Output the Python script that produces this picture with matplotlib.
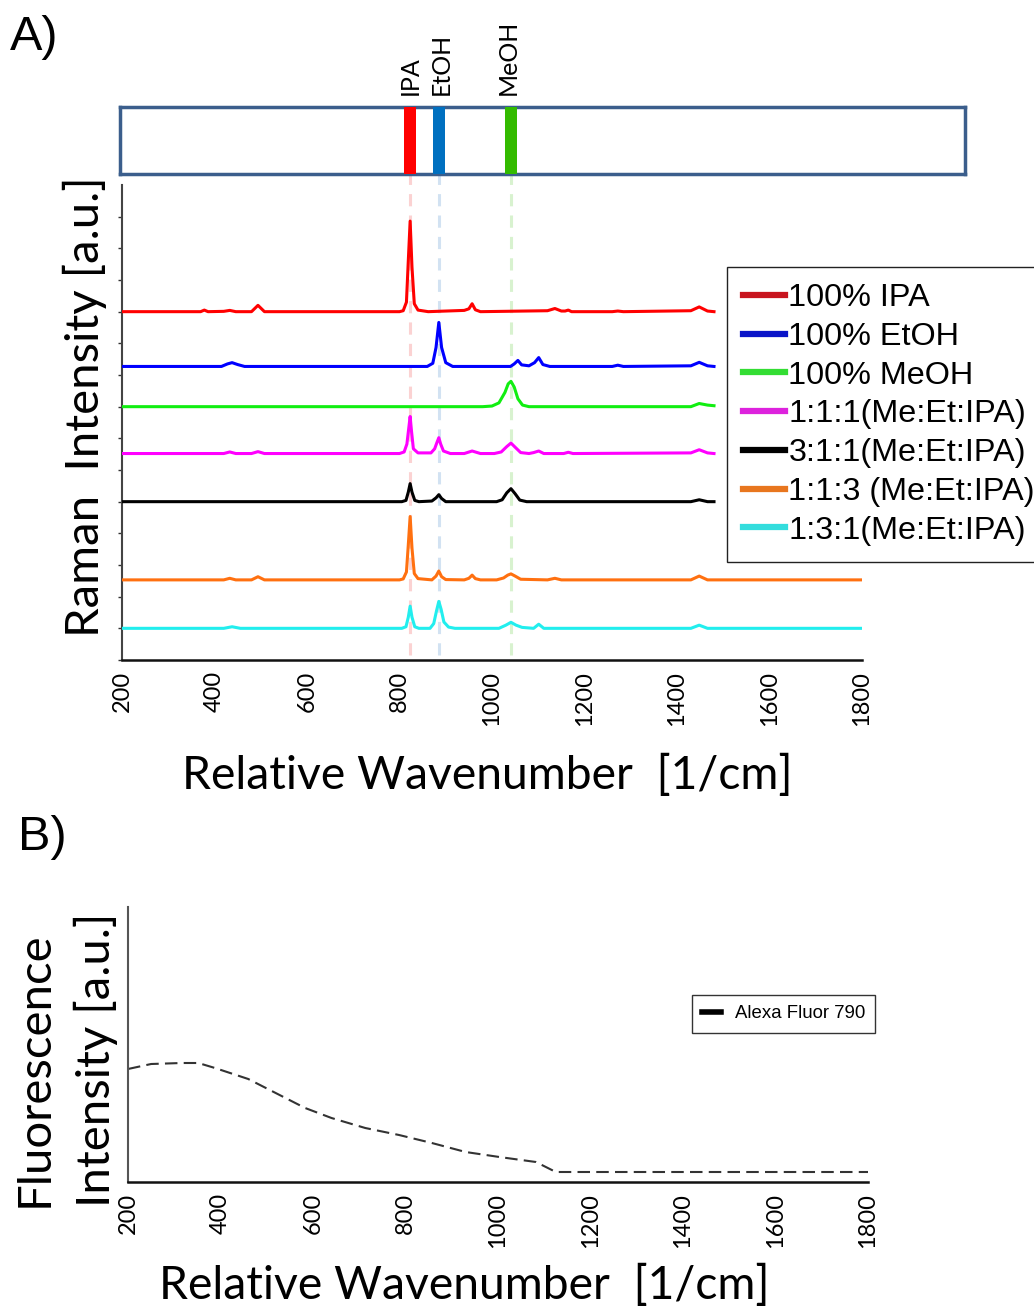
import numpy as np
import matplotlib
matplotlib.use("Agg")
import matplotlib.pyplot as plt
from matplotlib.lines import Line2D

# Raman spectra (wavenumber in 1/cm, intensity above own baseline)
ipa_x = [200, 370, 378, 386, 420, 433, 446, 480, 494, 508, 800, 808, 815, 819, 823, 827, 832, 840, 862,
         940, 950, 957, 964, 975, 1120, 1136, 1150, 1158, 1165, 1172, 1260, 1272, 1284, 1430, 1448, 1466, 1480]
ipa_y = [0, 0, 0.05, 0, 0.01, 0.04, 0, 0, 0.2, 0, 0, 0.03, 0.3, 1.6, 2.86, 1.4, 0.25, 0.05, 0,
         0.04, 0.09, 0.25, 0.06, 0, 0.03, 0.1, 0.02, 0.02, 0.05, 0, 0, 0.02, 0, 0.03, 0.15, 0.02, 0]

etoh_x = [200, 415, 428, 438, 450, 465, 860, 872, 879, 885, 891, 900, 915, 1040, 1048, 1056, 1064, 1080,
          1092, 1101, 1110, 1125, 1260, 1272, 1284, 1430, 1448, 1466, 1480]
etoh_y = [0, 0, 0.08, 0.12, 0.06, 0, 0, 0.1, 0.6, 1.39, 0.6, 0.12, 0, 0, 0.08, 0.19, 0.05, 0.02,
          0.12, 0.28, 0.06, 0, 0, 0.04, 0, 0.02, 0.13, 0.02, 0]

meoh_x = [200, 980, 1000, 1015, 1028, 1035, 1041, 1048, 1056, 1066, 1080, 1430, 1448, 1466, 1480]
meoh_y = [0, 0, 0.02, 0.12, 0.45, 0.72, 0.8, 0.62, 0.25, 0.05, 0, 0, 0.1, 0.05, 0.03]

mix111_x = [200, 420, 433, 446, 480, 494, 508, 800, 810, 816, 820, 823, 826, 830, 840, 868, 876, 881, 885,
            889, 895, 910, 940, 957, 975, 1005, 1020, 1032, 1041, 1050, 1062, 1080, 1090, 1101, 1112,
            1155, 1165, 1175, 1430, 1448, 1466, 1480]
mix111_y = [0, 0, 0.05, 0, 0, 0.06, 0, 0, 0.05, 0.3, 0.8, 1.17, 0.7, 0.15, 0.02, 0.02, 0.15, 0.35, 0.5,
            0.3, 0.08, 0, 0, 0.08, 0, 0, 0.05, 0.22, 0.33, 0.2, 0.03, 0, 0.03, 0.08, 0,
            0, 0.04, 0, 0.02, 0.12, 0.02, 0]

mix311_x = [200, 805, 814, 819, 823, 827, 833, 842, 870, 879, 885, 891, 900, 1010, 1022, 1032, 1041,
            1050, 1060, 1075, 1430, 1448, 1466, 1480]
mix311_y = [0, 0, 0.04, 0.3, 0.57, 0.3, 0.04, 0, 0.02, 0.12, 0.22, 0.1, 0, 0, 0.06, 0.28, 0.41,
            0.25, 0.05, 0, 0, 0.06, 0, 0]

mix113_x = [200, 420, 433, 446, 480, 494, 508, 800, 808, 815, 819, 823, 827, 832, 840, 870, 879, 885,
            891, 900, 940, 950, 957, 964, 975, 1010, 1025, 1034, 1041, 1050, 1062, 1120, 1136, 1150,
            1430, 1448, 1466, 1800]
mix113_y = [0, 0, 0.05, 0, 0, 0.1, 0, 0, 0.03, 0.25, 1.1, 2.0, 1.0, 0.2, 0.04, 0, 0.12, 0.28,
            0.1, 0.01, 0, 0.05, 0.15, 0.04, 0, 0, 0.06, 0.15, 0.19, 0.12, 0.02, 0, 0.05, 0,
            0, 0.12, 0, 0]

mix131_x = [200, 420, 438, 456, 805, 814, 819, 823, 827, 833, 842, 866, 874, 880, 885, 890, 896, 906,
            920, 1015, 1030, 1041, 1052, 1065, 1090, 1101, 1112, 1430, 1448, 1466, 1800]
mix131_y = [0, 0, 0.05, 0, 0, 0.05, 0.35, 0.7, 0.35, 0.05, 0, 0, 0.15, 0.55, 0.85, 0.6, 0.2, 0.04,
            0, 0, 0.1, 0.19, 0.1, 0.03, 0, 0.13, 0, 0, 0.1, 0, 0]

labels = ["100% IPA", "100% EtOH", "100% MeOH", "1:1:1(Me:Et:IPA)", "3:1:1(Me:Et:IPA)",
          "1:1:3 (Me:Et:IPA)", "1:3:1(Me:Et:IPA)"]
offsets = [11.0, 9.27, 8.0, 6.52, 5.0, 2.53, 1.0]
colors = ["#ff0000", "#0000ff", "#11ee11", "#ff00ff", "#000000", "#ff7010", "#22eeee"]
legend_colors = ["#c8141e", "#0a14c8", "#33dd33", "#dd22dd", "#000000", "#e8761e", "#33dddd"]

# reference peak positions for the marker strip
peak_names = ["IPA", "EtOH", "MeOH"]
peak_pos = [823, 885, 1041]
peak_colors = ["#ff0000", "#0070c0", "#33bb00"]
guide_colors = ["#fbd2d2", "#d2e2f2", "#d8f2cf"]

# fluorescence spectrum of Alexa Fluor 790
fl_x = [200, 250, 316, 352, 388, 460, 532, 583, 640, 713, 786, 857, 930, 1003, 1082, 1125, 1800]
fl_y = [11.3, 11.8, 11.9, 11.9, 11.4, 10.3, 8.6, 7.4, 6.4, 5.4, 4.7, 3.9, 3.0, 2.5, 2.0, 1.0, 1.0]

W, H = 1034, 1309
fig = plt.figure(figsize=(W / 100, H / 100), dpi=100)
LAB = "Lato"
ARIAL = "Liberation Sans"

def fx(px):
    return px / W

def fy(py):
    return 1 - py / H

# ---- panel A main axes
ax = fig.add_axes([fx(122), fy(660), fx(862) - fx(122), fy(185) - fy(660)])
series = [(ipa_x, ipa_y), (etoh_x, etoh_y), (meoh_x, meoh_y), (mix111_x, mix111_y),
          (mix311_x, mix311_y), (mix113_x, mix113_y), (mix131_x, mix131_y)]
for (xs, ys), off, c in zip(series, offsets, colors):
    ax.plot(xs, np.array(ys) + off, color=c, lw=2.2, zorder=3)

ax.vlines(peak_pos, 0.15, 15.6, colors=guide_colors, linestyles=(0, (4, 3)), lw=2.2,
          clip_on=False, zorder=1)

ax.set_xlim(200, 1800)
ax.set_ylim(0, 15)
ax.set_xticks(range(200, 1801, 200))
ax.set_yticks(range(0, 15))
ax.set_yticklabels([])
ax.tick_params(axis="x", length=0, pad=8, labelsize=17, labelrotation=90)
ax.tick_params(axis="y", length=3, width=1, color="#333333", direction="out")
for lab in ax.get_xticklabels():
    lab.set_fontfamily(LAB)
    lab.set_verticalalignment("top")
for s in ["top", "right"]:
    ax.spines[s].set_visible(False)
ax.spines["left"].set_color("#444444")
ax.spines["left"].set_linewidth(1.5)
ax.spines["bottom"].set_color("#111111")
ax.spines["bottom"].set_linewidth(1.8)

fig.text(fx(487), fy(775), "Relative Wavenumber  [1/cm]", fontsize=33.3, family=LAB,
         ha="center", va="center")
fig.text(fx(85), fy(407), "Raman  Intensity [a.u.]", fontsize=34, family=LAB,
         ha="center", va="center", rotation=90)
fig.text(fx(10), fy(38), "A)", fontsize=35, family=ARIAL, ha="left", va="center")

handles = [Line2D([0], [0], color=c, lw=4.5) for c in legend_colors]
fig.legend(handles, labels, loc="upper left", bbox_to_anchor=(fx(727), fy(267)),
           prop={"family": ARIAL, "size": 23.3}, frameon=True, fancybox=False,
           edgecolor="#222222", framealpha=1, handlelength=1.3, handletextpad=0.1,
           labelspacing=0.27, borderpad=0.5, borderaxespad=0)

# ---- marker strip above panel A
ax_s = fig.add_axes([fx(120), fy(174), fx(965) - fx(120), fy(107) - fy(174)])
ax_s.set_xlim(200 + (120 - 122) / 0.4625, 200 + (965 - 122) / 0.4625)
ax_s.set_ylim(0, 1)
ax_s.bar(peak_pos, 1, width=27, bottom=0, color=peak_colors, zorder=4, clip_on=False)
for sp in ax_s.spines.values():
    sp.set_color("#3b5e8c")
    sp.set_linewidth(2.5)
ax_s.set_xticks([])
ax_s.set_yticks([])
for name, p, dx in zip(peak_names, peak_pos, [0, 6, -6]):
    ax_s.text(p + dx, 1.18, name, rotation=90, ha="center", va="bottom", fontsize=18, family=LAB)

# ---- panel B
ax_b = fig.add_axes([fx(128), fy(1182), fx(868) - fx(128), fy(907) - fy(1182)])
ax_b.plot(fl_x, fl_y, color="#333333", lw=1.5, linestyle=(0, (6, 3)), label="Alexa Fluor 790")
ax_b.set_xlim(200, 1800)
ax_b.set_ylim(0, 27.5)
ax_b.set_xticks(range(200, 1801, 200))
ax_b.set_yticks([])
ax_b.tick_params(axis="x", length=0, pad=8, labelsize=17, labelrotation=90)
for lab in ax_b.get_xticklabels():
    lab.set_fontfamily(LAB)
    lab.set_verticalalignment("top")
for s in ["top", "right"]:
    ax_b.spines[s].set_visible(False)
ax_b.spines["left"].set_color("#555555")
ax_b.spines["left"].set_linewidth(1.5)
ax_b.spines["bottom"].set_color("#111111")
ax_b.spines["bottom"].set_linewidth(1.8)

ax_b.legend([Line2D([0], [0], color="black", lw=4)], ["Alexa Fluor 790"], loc="upper left",
            bbox_to_anchor=(fx(692), fy(995)), bbox_transform=fig.transFigure,
            prop={"family": ARIAL, "size": 13.4}, frameon=True, fancybox=False,
            edgecolor="#333333", framealpha=1, handlelength=1.0, handletextpad=0.75,
            borderpad=0.55, borderaxespad=0)

fig.text(fx(464), fy(1285), "Relative Wavenumber  [1/cm]", fontsize=33.3, family=LAB,
         ha="center", va="center")
fig.text(fx(66), fy(1207), "Fluorescence\nIntensity [a.u.]", fontsize=34, family=LAB,
         ha="center", va="bottom", rotation=90, multialignment="left", linespacing=1.5)
fig.text(fx(18), fy(838), "B)", fontsize=35, family=ARIAL, ha="left", va="center")

fig.savefig("out.png", dpi=100)
